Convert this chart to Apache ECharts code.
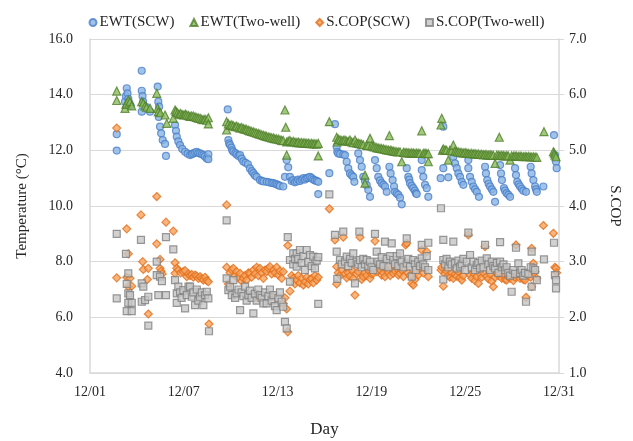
<!DOCTYPE html>
<html>
<head>
<meta charset="utf-8">
<script src="https://cdn.jsdelivr.net/npm/echarts@6/dist/echarts.min.js"></script>
<style>html,body{margin:0;padding:0;background:#fff}#c{width:633px;height:441px}</style>
</head>
<body>
<div id="c"></div>
<script>
// x = days after 12/01 00:00
var xTickLabels = ['12/01','12/07','12/13','12/19','12/25','12/31'];
var seriesNames = ['EWT(SCW)','EWT(Two-well)','S.COP(SCW)','S.COP(Two-well)'];

var ewtScw = [
[1.71,12.58],[1.71,11.99],
[2.24,13.75],[2.30,13.95],[2.35,14.23],[2.40,14.05],[2.45,13.85],[2.52,13.70],[2.60,13.60],
[3.31,14.86],[3.31,14.14],[3.36,13.95],[3.40,13.75],[3.31,13.39],[3.60,13.55],[3.84,13.39],
[4.33,14.29],[4.37,13.75],[4.42,13.57],[4.40,13.20],[4.48,12.85],[4.55,12.61],[4.65,12.37],[4.80,12.23],[4.86,11.80],
[5.44,12.91],[5.50,12.70],[5.55,12.49],[5.65,12.32],[5.76,12.19],[5.90,12.05],[6.08,11.95],[6.25,11.88],[6.40,11.83],[6.51,11.86],[6.61,11.89],[6.72,11.92],[6.83,11.95],[6.93,11.90],[7.04,11.89],[7.15,11.86],[7.25,11.83],[7.35,11.78],[7.47,11.71],[7.57,11.86],[7.57,11.68],
[8.81,13.47],[8.85,12.37],[8.90,12.25],[8.96,12.19],[9.05,12.10],[9.10,12.00],[9.17,11.95],[9.30,11.90],[9.38,11.85],[9.50,11.80],[9.60,11.83],[9.70,11.70],[9.81,11.60],[9.95,11.55],[10.10,11.50],[10.23,11.35],[10.35,11.25],[10.45,11.18],[10.55,11.10],[10.66,11.05],[10.87,10.93],[11.00,10.90],[11.10,10.88],[11.30,10.87],[11.45,10.85],[11.62,10.83],[11.73,10.82],[11.85,10.80],[11.94,10.78],[12.05,10.75],[12.15,10.72],[12.36,10.70],[12.47,11.05],[12.58,11.65],[12.68,11.39],[12.79,11.05],[12.90,10.90],[13.00,10.93],[13.10,10.85],[13.22,10.88],[13.32,10.95],[13.43,10.90],[13.55,10.95],[13.65,11.00],[13.75,10.95],[13.86,11.00],[13.96,11.02],[14.07,11.05],[14.18,11.00],[14.28,10.95],[14.39,10.92],[14.50,10.90],[14.60,10.87],[14.60,10.43],
[15.31,11.18],
[15.67,12.94],[15.78,12.13],[15.82,11.95],[15.88,11.89],[16.00,11.87],[16.20,11.85],[16.31,11.83],[16.42,11.59],[16.52,11.35],[16.63,11.17],[16.74,11.10],[16.84,11.05],[16.91,10.87],
[17.16,11.89],[17.27,11.65],[17.38,11.41],[17.48,11.05],[17.59,10.90],[17.70,10.75],[17.80,10.58],[17.91,10.33],
[18.23,11.65],[18.34,11.36],[18.44,11.05],[18.55,10.92],[18.66,10.82],[18.77,10.76],[18.87,10.70],[18.98,10.51],
[19.15,11.41],[19.23,11.17],[19.36,10.93],[19.45,10.70],[19.51,10.51],[19.62,10.45],[19.72,10.40],[19.83,10.30],[19.94,10.06],
[20.26,11.36],[20.36,11.05],[20.42,10.95],[20.47,10.82],[20.58,10.72],[20.68,10.64],[20.78,10.55],[20.85,10.46],[20.90,10.43],
[21.22,11.65],[21.22,11.29],[21.32,11.05],[21.43,10.76],[21.54,10.64],[21.64,10.33],
[22.43,11.00],[22.60,12.85],[22.60,11.36],[22.92,11.03],
[23.24,11.77],[23.35,11.53],[23.46,11.36],[23.56,11.17],[23.67,11.05],[23.78,10.87],[23.88,10.76],
[24.20,11.65],[24.20,11.36],[24.31,11.05],[24.42,10.87],[24.52,10.70],[24.63,10.60],[24.74,10.51],[24.88,10.33],
[25.27,11.41],[25.33,11.17],[25.41,10.93],[25.50,10.80],[25.59,10.70],[25.70,10.60],[25.80,10.51],[25.91,10.15],
[26.23,11.47],[26.29,11.17],[26.35,10.93],[26.48,10.64],[26.55,10.55],[26.65,10.46],[26.76,10.40],[26.87,10.33],
[27.19,11.36],[27.25,11.11],[27.33,10.87],[27.42,10.78],[27.51,10.70],[27.62,10.62],[27.72,10.55],[27.89,10.51],
[28.19,11.41],[28.25,11.17],[28.36,10.93],[28.47,10.70],[28.53,10.60],[28.58,10.51],[29.00,10.70],
[29.68,12.55],[29.74,11.83],[29.81,11.59],[29.85,11.36]
];

var ewtTwo = [
[1.71,14.13],[1.71,13.79],[2.24,13.51],[2.30,13.65],[2.35,13.70],[2.45,13.80],[2.56,13.75],[2.67,13.60],[3.31,13.75],[3.41,13.70],[3.52,13.60],[3.62,13.55],[3.84,13.51],[4.27,14.05],[4.33,13.51],[4.37,13.39],[4.50,13.35],[4.80,13.27],[4.91,12.97],[5.33,13.15],[5.44,13.45],[5.50,13.40],[5.60,13.35],[5.70,13.30],[5.80,13.32],[5.90,13.28],[6.00,13.27],[6.10,13.30],[6.19,13.27],[6.30,13.25],[6.40,13.22],[6.50,13.23],[6.61,13.23],[6.72,13.20],[6.83,13.18],[6.93,13.16],[7.04,13.15],[7.15,13.12],[7.25,13.10],[7.36,13.12],[7.47,13.08],[7.57,13.17],[7.57,12.95],
[8.74,13.03],[8.74,12.73],[8.85,12.95],[8.96,12.90],[9.07,12.92],[9.17,12.88],[9.28,12.85],[9.38,12.87],[9.50,12.83],[9.60,12.80],[9.70,12.82],[9.81,12.78],[9.92,12.76],[10.02,12.75],[10.13,12.72],[10.23,12.70],[10.34,12.68],[10.45,12.66],[10.55,12.64],[10.66,12.62],[10.77,12.60],[10.87,12.58],[10.98,12.56],[11.09,12.54],[11.20,12.52],[11.30,12.50],[11.41,12.48],[11.51,12.47],[11.62,12.45],[11.73,12.44],[11.83,12.42],[11.94,12.41],[12.05,12.40],[12.15,12.38],[12.26,12.36],[12.36,12.35],[12.47,13.45],[12.52,12.83],[12.58,11.83],[12.58,12.30],[12.68,12.33],[12.79,12.35],[12.90,12.30],[13.00,12.32],[13.11,12.30],[13.22,12.28],[13.32,12.30],[13.43,12.27],[13.54,12.28],[13.65,12.26],[13.75,12.27],[13.86,12.25],[13.96,12.26],[14.07,12.24],[14.18,12.25],[14.28,12.23],[14.39,12.24],[14.50,12.22],[14.60,12.25],[14.60,11.80],
[15.31,13.03],[15.78,12.47],[15.82,12.30],[15.88,12.40],[15.99,12.38],[16.10,12.35],[16.20,12.36],[16.31,12.37],[16.42,12.33],[16.52,12.32],[16.63,12.37],[16.74,12.30],[16.84,12.28],[16.95,12.37],[17.06,12.27],[17.16,12.25],[17.27,12.24],[17.38,12.22],[17.48,12.20],[17.59,11.11],[17.59,10.82],[17.70,12.18],[17.80,12.17],[17.91,12.43],[18.01,12.16],[18.12,12.13],[18.23,12.12],[18.34,12.10],[18.44,12.08],[18.55,12.07],[18.66,12.06],[18.77,12.05],[18.87,12.03],[18.98,12.02],[19.15,12.53],[19.09,12.01],[19.20,12.00],[19.30,11.99],[19.40,11.97],[19.51,11.96],[19.62,11.95],[19.72,11.94],[19.83,11.95],[19.94,11.59],[20.05,11.93],[20.15,11.92],[20.26,11.92],[20.36,11.91],[20.47,11.90],[20.58,11.91],[20.68,11.90],[20.79,11.89],[20.90,11.90],[21.00,11.89],[21.11,11.89],[21.22,12.70],[21.32,11.89],[21.43,11.90],[21.54,11.88],[21.64,11.59],[21.64,11.88],
[22.45,12.91],[22.50,13.15],[22.55,12.00],[22.60,12.05],[22.71,12.02],[22.81,12.00],[22.92,11.65],[23.02,12.00],[23.13,11.98],[23.24,12.19],[23.35,11.97],[23.46,11.95],[23.56,11.94],[23.67,11.93],[23.78,11.92],[23.88,11.90],[23.99,11.92],[24.10,11.90],[24.20,11.89],[24.31,11.88],[24.42,11.89],[24.52,11.87],[24.63,11.88],[24.74,11.86],[24.84,11.87],[24.95,11.85],[25.06,11.86],[25.17,11.84],[25.27,11.85],[25.38,11.84],[25.48,11.83],[25.59,11.84],[25.70,11.83],[25.80,11.82],[25.91,11.53],[26.02,11.83],[26.13,11.82],[26.18,12.47],[26.23,11.81],[26.34,11.82],[26.45,11.81],[26.55,11.80],[26.66,11.81],[26.76,11.80],[26.87,11.65],[26.97,11.80],[27.08,11.79],[27.19,11.80],[27.29,11.79],[27.40,11.78],[27.51,11.79],[27.61,11.78],[27.72,11.77],[27.83,11.78],[27.93,11.77],[28.04,11.78],[28.15,11.77],[28.25,11.76],[28.36,11.77],[28.47,11.76],[28.58,11.75],[29.04,12.67],[29.64,11.95],[29.70,11.90],[29.74,11.83],[29.81,11.77]
];

var copScw = [
[1.71,5.40],[1.71,2.71],[2.35,3.59],[2.45,3.14],[2.35,2.72],[2.56,2.70],[2.45,2.55],[2.67,2.56],[3.26,3.84],[3.37,3.00],[3.41,2.86],[3.73,2.88],[3.67,2.68],[3.73,2.06],[4.27,4.17],[4.27,3.32],[4.48,3.04],[4.48,2.88],[4.55,2.83],[4.62,2.78],[4.86,3.71],[5.33,3.55],[5.44,2.98],[5.55,2.88],[5.44,2.79],[5.65,2.85],[5.80,2.80],[5.97,2.82],[6.08,2.84],[6.19,2.73],[6.30,2.78],[6.40,2.75],[6.51,2.77],[6.61,2.72],[6.72,2.76],[6.83,2.74],[6.93,2.70],[7.04,2.73],[7.15,2.70],[7.25,2.67],[7.36,2.72],[7.47,2.66],[7.57,2.64],[7.61,1.88],
[8.74,4.02],[8.74,2.90],[8.85,2.60],[8.96,2.80],[9.07,2.85],[9.17,2.88],[9.28,2.75],[9.38,2.82],[9.50,2.72],[9.60,2.79],[9.70,2.65],[9.81,2.70],[9.92,2.75],[10.02,2.67],[10.13,2.80],[10.23,2.79],[10.34,2.72],[10.45,2.85],[10.55,2.78],[10.66,2.90],[10.66,2.37],[10.77,2.75],[10.87,2.88],[10.98,2.80],[11.09,2.70],[11.20,2.85],[11.30,2.82],[11.41,2.88],[11.51,2.91],[11.62,2.37],[11.62,2.78],[11.73,2.85],[11.83,2.80],[11.94,2.90],[12.05,2.76],[12.15,2.83],[12.26,2.70],[12.36,2.82],[12.36,2.25],[12.47,2.35],[12.58,2.15],[12.65,3.29],[12.65,1.74],[12.79,2.47],[12.90,2.75],[13.00,2.70],[13.11,2.60],[13.22,2.67],[13.32,2.75],[13.43,2.62],[13.54,2.70],[13.65,2.58],[13.75,2.64],[13.86,2.72],[13.96,2.60],[14.07,2.68],[14.18,2.70],[14.28,2.62],[14.39,2.75],[14.50,2.67],[14.60,2.72],[15.31,3.95],
[15.67,3.39],[15.78,2.91],[15.78,2.60],[15.88,2.80],[15.99,2.75],[16.10,2.85],[16.20,3.44],[16.31,2.78],[16.42,2.71],[16.52,2.80],[16.63,2.74],[16.74,2.85],[16.84,2.70],[16.95,2.40],[17.06,2.78],[17.16,2.82],[17.27,3.44],[17.38,2.68],[17.48,2.73],[17.59,2.80],[17.70,2.75],[17.80,2.85],[17.91,2.70],[18.01,2.78],[18.12,2.79],[18.23,3.37],[18.34,2.82],[18.44,2.90],[18.55,2.85],[18.66,2.76],[18.77,2.80],[18.87,2.73],[18.98,2.85],[19.09,2.80],[19.20,2.75],[19.30,2.90],[19.40,2.79],[19.51,2.84],[19.62,2.88],[19.72,2.76],[19.83,2.79],[19.94,2.85],[20.05,2.73],[20.19,3.30],[20.26,3.33],[20.36,2.80],[20.47,2.75],[20.58,2.61],[20.68,2.58],[20.79,2.68],[20.90,2.82],[21.00,2.76],[21.11,2.88],[21.22,3.21],[21.32,2.80],[21.43,2.88],[21.54,3.18],[21.64,2.73],
[22.45,2.85],[22.50,2.90],[22.60,2.56],[22.71,2.78],[22.81,2.83],[22.92,2.75],[23.02,2.72],[23.13,2.80],[23.24,2.70],[23.35,2.78],[23.46,2.74],[23.56,2.82],[23.67,2.71],[23.78,2.67],[23.88,2.75],[24.20,3.48],[24.31,2.76],[24.42,2.70],[24.52,2.80],[24.63,2.66],[24.74,2.73],[24.84,2.61],[24.95,2.78],[25.06,2.72],[25.17,2.80],[25.27,3.27],[25.38,2.74],[25.48,2.69],[25.59,2.78],[25.70,2.65],[25.80,2.55],[25.91,2.72],[26.02,2.80],[26.13,2.75],[26.23,2.79],[26.34,2.70],[26.45,2.76],[26.55,2.68],[26.65,2.67],[26.76,2.73],[26.87,2.70],[26.97,2.77],[27.08,2.66],[27.19,2.72],[27.25,3.30],[27.40,2.78],[27.51,2.70],[27.61,2.74],[27.72,2.68],[27.83,2.67],[27.89,2.36],[28.04,2.76],[28.19,2.72],[28.25,3.24],[28.36,2.97],[28.25,2.55],[28.47,2.82],[28.58,2.70],[29.00,3.65],[29.64,3.51],[29.74,2.90],[29.81,2.88],[29.85,2.80]
];

var copTwo = [
[1.71,3.50],[1.71,2.34],[2.30,3.14],[2.45,2.79],[2.45,2.43],[2.56,2.40],[2.45,2.26],[2.67,2.26],[2.35,2.11],[2.67,2.11],[2.35,2.60],[3.26,3.39],[3.31,2.61],[3.41,2.55],[3.31,2.28],[3.52,2.31],[3.73,2.37],[3.73,1.85],[4.27,3.00],[4.27,2.76],[4.48,2.73],[4.37,2.40],[4.60,2.65],[4.86,3.44],[4.86,2.40],[5.33,3.22],[5.44,2.67],[5.55,2.43],[5.55,2.26],[5.65,2.55],[5.76,2.45],[5.86,2.35],[5.97,2.49],[6.08,2.16],[6.19,2.40],[6.30,2.55],[6.40,2.55],[6.51,2.37],[6.61,2.45],[6.72,2.22],[6.83,2.50],[6.93,2.30],[7.04,2.37],[7.15,2.45],[7.25,2.22],[7.36,2.40],[7.47,2.46],[7.57,2.34],[7.61,1.75],
[8.74,3.74],[8.74,2.70],[8.85,2.49],[8.96,2.55],[9.07,2.40],[9.17,2.67],[9.28,2.35],[9.38,2.43],[9.50,2.50],[9.60,2.13],[9.70,2.45],[9.81,2.38],[9.92,2.55],[10.02,2.30],[10.13,2.40],[10.23,2.48],[10.34,2.35],[10.45,2.07],[10.55,2.42],[10.66,2.30],[10.77,2.50],[10.87,2.40],[10.98,2.35],[11.09,2.25],[11.20,2.45],[11.30,2.25],[11.41,2.38],[11.51,2.50],[11.62,2.30],[11.73,2.40],[11.83,2.20],[11.94,2.13],[12.05,2.35],[12.15,2.45],[12.26,2.28],[12.36,2.19],[12.47,1.92],[12.58,1.80],[12.65,3.44],[12.79,2.64],[12.79,3.03],[13.00,3.15],[13.00,2.95],[13.11,3.05],[13.22,2.91],[13.22,3.15],[13.32,3.05],[13.43,3.21],[13.54,2.98],[13.65,3.10],[13.75,2.85],[13.86,3.21],[13.96,3.00],[14.07,3.12],[14.18,2.92],[14.28,3.09],[14.39,2.88],[14.50,3.02],[14.60,3.08],[14.60,2.24],[15.31,4.21],
[15.67,3.48],[15.78,3.18],[15.82,2.69],[15.99,3.03],[16.10,2.95],[16.20,3.54],[16.31,3.00],[16.42,3.09],[16.52,2.92],[16.63,3.05],[16.74,2.98],[16.84,3.15],[16.95,2.61],[17.06,3.00],[17.16,2.95],[17.23,3.54],[17.27,3.03],[17.38,2.90],[17.48,3.05],[17.59,2.95],[17.70,3.03],[17.80,2.92],[17.91,3.00],[18.01,2.90],[18.12,2.85],[18.23,3.50],[18.34,3.18],[18.44,3.00],[18.55,2.95],[18.66,3.08],[18.77,2.92],[18.87,3.36],[18.98,3.05],[19.09,2.90],[19.20,3.10],[19.30,3.33],[19.40,3.03],[19.51,2.95],[19.62,3.10],[19.72,2.92],[19.83,3.15],[19.94,3.00],[20.05,2.90],[20.26,3.42],[20.26,2.97],[20.36,3.05],[20.47,2.91],[20.58,2.73],[20.68,3.03],[20.79,2.95],[20.85,2.85],[21.00,3.00],[21.11,2.92],[21.22,3.30],[21.22,3.06],[21.32,2.95],[21.43,2.90],[21.54,3.10],[21.64,3.34],[21.64,2.85],
[22.45,3.96],[22.60,3.39],[22.60,3.03],[22.60,2.68],[22.71,2.95],[22.81,3.05],[22.92,2.90],[23.02,3.00],[23.13,2.95],[23.24,3.36],[23.35,2.98],[23.46,2.88],[23.56,3.02],[23.67,2.91],[23.78,2.95],[23.88,3.05],[23.99,2.85],[24.10,3.00],[24.20,3.52],[24.31,3.12],[24.42,2.90],[24.52,3.00],[24.63,2.85],[24.74,2.94],[24.84,2.98],[24.95,2.88],[25.06,3.02],[25.17,2.90],[25.27,3.30],[25.38,3.06],[25.48,2.95],[25.59,2.85],[25.70,3.00],[25.80,2.92],[25.91,2.88],[26.02,2.98],[26.13,2.80],[26.23,3.35],[26.23,3.00],[26.34,2.90],[26.45,2.95],[26.55,2.85],[26.65,2.90],[26.76,2.80],[26.87,2.75],[26.97,2.46],[27.08,2.85],[27.19,2.78],[27.25,3.25],[27.40,2.97],[27.51,2.80],[27.61,2.85],[27.72,2.75],[27.83,2.80],[27.89,2.28],[28.04,2.78],[28.19,2.90],[28.25,3.18],[28.25,2.55],[28.36,2.88],[28.47,2.85],[28.58,2.67],[29.04,3.04],[29.68,3.34],[29.74,2.76],[29.81,2.67],[29.81,2.52]
];

var FONT = '"Liberation Serif","Times New Roman",serif';
var TXT = '#262626';
var GRID = '#d9d9d9';

var chart = echarts.init(document.getElementById('c'), null, {renderer: 'canvas'});
chart.setOption({
  animation: false,
  backgroundColor: '#ffffff',
  textStyle: {fontFamily: FONT, color: TXT},
  legend: {
    top: 10, left: 'center',
    itemWidth: 7, itemHeight: 7, itemGap: 15,
    textStyle: {fontFamily: FONT, fontSize: 15, color: TXT, padding: [0,0,0,-2]},
    data: seriesNames
  },
  grid: {left: 90, right: 74, top: 39, bottom: 68, outerBoundsMode: 'none', containLabel: false},
  xAxis: {
    type: 'value', min: 0, max: 30, interval: 6,
    name: 'Day', nameLocation: 'middle', nameGap: 48,
    nameTextStyle: {fontFamily: FONT, fontSize: 17, color: TXT},
    axisLine: {show: true, lineStyle: {color: GRID, width: 1.5}},
    axisTick: {show: false},
    splitLine: {show: false},
    axisLabel: {fontFamily: FONT, fontSize: 14, color: TXT, margin: 12,
      formatter: function (v) { return xTickLabels[Math.round(v / 6)]; }}
  },
  yAxis: [{
    type: 'value', min: 4, max: 16, interval: 2, position: 'left',
    name: 'Temperature (\u00b0C)', nameLocation: 'middle', nameGap: 60,
    nameTextStyle: {fontFamily: FONT, fontSize: 15, color: TXT},
    axisLine: {show: true, lineStyle: {color: GRID, width: 1.5}},
    axisTick: {show: false},
    splitLine: {show: true, lineStyle: {color: GRID, width: 1}},
    axisLabel: {fontFamily: FONT, fontSize: 14, color: TXT, margin: 17,
      formatter: function (v) { return v.toFixed(1); }}
  }, {
    type: 'value', min: 1, max: 7, interval: 1, position: 'right',
    name: 'S.COP', nameLocation: 'middle', nameGap: 48, nameRotate: -90,
    nameTextStyle: {fontFamily: FONT, fontSize: 15, color: TXT},
    axisLine: {show: true, lineStyle: {color: GRID, width: 1.5}},
    axisTick: {show: true, inside: false, length: 5, lineStyle: {color: GRID}},
    splitLine: {show: false},
    axisLabel: {fontFamily: FONT, fontSize: 14, color: TXT, margin: 10,
      formatter: function (v) { return v.toFixed(1); }}
  }],
  series: [{
    name: seriesNames[0], type: 'scatter', yAxisIndex: 0, data: ewtScw,
    symbol: 'circle', symbolSize: 7,
    itemStyle: {color: '#8ab4e4', borderColor: '#4a7fc9', borderWidth: 1.2}
  }, {
    name: seriesNames[1], type: 'scatter', yAxisIndex: 0, data: ewtTwo,
    symbol: 'triangle', symbolSize: 8,
    itemStyle: {color: '#8cbc5e', borderColor: '#4f7f2a', borderWidth: 1.2}
  }, {
    name: seriesNames[2], type: 'scatter', yAxisIndex: 1, data: copScw,
    symbol: 'diamond', symbolSize: 8,
    itemStyle: {color: '#f6a35c', borderColor: '#e2711d', borderWidth: 1.2}
  }, {
    name: seriesNames[3], type: 'scatter', yAxisIndex: 1, data: copTwo,
    symbol: 'rect', symbolSize: 7,
    itemStyle: {color: '#c6c6c6', borderColor: '#808080', borderWidth: 1.2}
  }]
});
</script>
</body>
</html>
